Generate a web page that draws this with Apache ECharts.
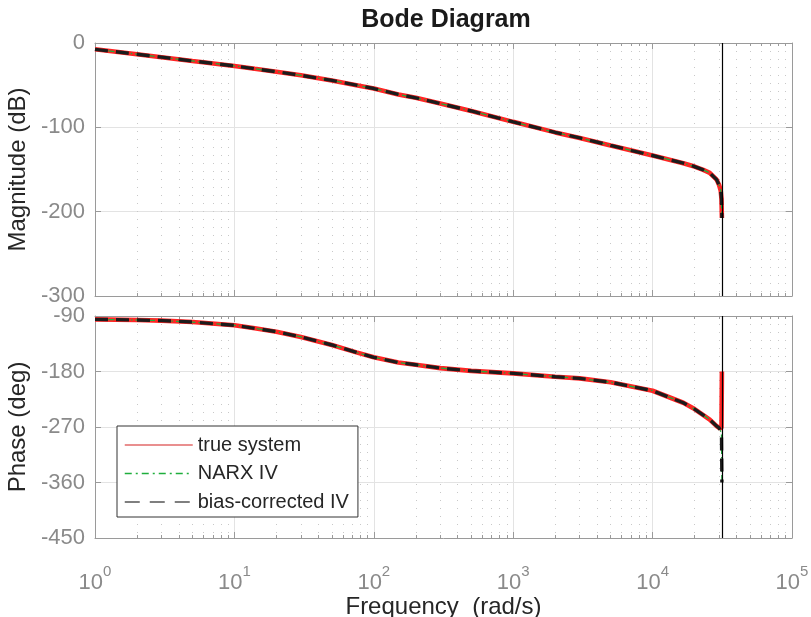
<!DOCTYPE html>
<html><head><meta charset="utf-8">
<script src="https://cdn.jsdelivr.net/npm/echarts@6/dist/echarts.min.js"></script>
<style>html,body{margin:0;padding:0;background:#fff}#c{width:811px;height:617px}</style>
</head><body><div id="c"></div>
<script>
// ---- data ----
const freq = [1, 2, 3, 5, 10, 14, 20, 30, 50, 75, 100, 150, 200, 300, 500, 1000, 2000, 3000, 5000, 10000, 16600, 20000, 23100, 25700, 28800, 30000, 30800, 31200, 31416];
const trueMag = [-7.5, -13.3, -16.8, -21.3, -27.2, -30.6, -34.0, -38.3, -44.4, -50.0, -54.0, -61.0, -65.0, -71.8, -80.6, -93.5, -106.0, -112.6, -121.5, -133.4, -142.5, -146.5, -150.5, -154.0, -162.0, -168.5, -175.0, -185.0, -207.5];
const narxMag = [-7.5, -13.3, -16.8, -21.3, -27.2, -30.6, -34.0, -38.3, -44.4, -50.0, -54.0, -61.0, -65.0, -71.8, -80.6, -93.5, -106.0, -112.6, -121.5, -133.4, -142.5, -146.5, -150.5, -154.0, -162.0, -168.5, -175.0, -185.0, -207.5];
const bcMag = [-7.5, -13.3, -16.8, -21.3, -27.2, -30.6, -34.0, -38.3, -44.4, -50.0, -54.0, -61.0, -65.0, -71.8, -80.6, -93.5, -106.0, -112.6, -121.5, -133.4, -142.5, -146.5, -150.5, -154.0, -162.0, -168.5, -175.0, -185.0, -207.5];
const truePhase = [-95.4, -96.5, -97.5, -99.8, -105.0, -110.0, -115.4, -124.0, -137.0, -149.0, -157.0, -165.5, -169.0, -174.5, -179.0, -183.0, -188.5, -191.2, -197.5, -211.2, -230.7, -241.0, -250.7, -258.0, -268.6, -271.5, -273.0, -272.0, -180.0];
const narxPhase = [-95.4, -96.5, -97.5, -99.8, -105.0, -110.0, -115.4, -124.0, -137.0, -149.0, -157.0, -165.5, -169.0, -174.5, -179.0, -183.0, -188.5, -191.2, -197.5, -211.2, -230.7, -241.0, -250.7, -258.0, -268.6, -271.5, -274.0, -280.0, -360.0];
const bcPhase = [-95.4, -96.5, -97.5, -99.8, -105.0, -110.0, -115.4, -124.0, -137.0, -149.0, -157.0, -165.5, -169.0, -174.5, -179.0, -183.0, -188.5, -191.2, -197.5, -211.2, -230.7, -241.0, -250.7, -258.0, -268.6, -271.5, -274.0, -280.0, -360.0];
const nyquist = [31416];
const xMajorTicks = [1, 10, 100, 1000, 10000, 100000];
const xMinorTicks = [2,3,4,5,6,7,8,9,20,30,40,50,60,70,80,90,200,300,400,500,600,700,800,900,2000,3000,4000,5000,6000,7000,8000,9000,20000,30000,40000,50000,60000,70000,80000,90000];
const magRange = [-300, 0];
const phaseRange = [-450, -90];
const seriesNames = ['true system', 'NARX IV', 'bias-corrected IV'];

// ---- styling ----
const FONT = '"Liberation Sans", Arial, Helvetica, sans-serif';
const AX = '#9a9a9a';
const LBL = '#8a8a8a';
const DARK = '#262626';
const RED = '#ff2424', GREEN = '#1fae3c', BLACK = '#1c1c1c';

function xAxisDef(grid, pos, kind, labels) {
  const o = {
    type: 'log', logBase: 10, gridIndex: grid, position: pos, min: 1, max: 100000,
    axisLine: { show: true, onZero: false, lineStyle: { color: AX, width: 1 } },
    axisTick: { show: true, inside: true, length: kind === 'major' ? 6 : 3, lineStyle: { color: AX } },
    axisLabel: { show: false },
    splitLine: { show: false }
  };
  if (kind === 'minor') {
    o.axisTick.customValues = xMinorTicks;
    o.axisLine.show = false;
    if (pos === 'bottom') o.splitLine = { show: true, lineStyle: { color: '#c8c8c8', type: [1, 7], width: 1 } };
  } else {
    o.axisTick.customValues = xMajorTicks;
    if (pos === 'bottom') o.splitLine = { show: true, lineStyle: { color: '#e3e3e3', width: 1 } };
  }
  if (labels) {
    o.axisLabel = {
      show: true, margin: 26, customValues: xMajorTicks,
      formatter: v => '{b|10}{s|' + Math.round(Math.log10(v)) + '}',
      rich: {
        b: { fontFamily: FONT, fontSize: 22, color: LBL, lineHeight: 30, verticalAlign: 'bottom' },
        s: { fontFamily: FONT, fontSize: 15, color: LBL, lineHeight: 15, verticalAlign: 'top' }
      }
    };
    o.name = 'Frequency  (rad/s)';
    o.nameLocation = 'middle';
    o.nameGap = 50;
    o.nameTextStyle = { fontFamily: FONT, fontSize: 24, color: DARK };
  }
  return o;
}
function yAxisDef(grid, pos, range, step, name) {
  const o = {
    type: 'value', gridIndex: grid, position: pos, min: range[0], max: range[1], interval: step,
    axisLine: { show: true, onZero: false, lineStyle: { color: AX, width: 1 } },
    axisTick: { show: true, inside: true, length: 6, lineStyle: { color: AX } },
    axisLabel: { show: false },
    splitLine: { show: pos === 'left', lineStyle: { color: '#e3e3e3', width: 1 } }
  };
  if (name) {
    o.axisLabel = { show: true, margin: 10, fontFamily: FONT, fontSize: 22, color: LBL };
    o.name = name; o.nameLocation = 'middle'; o.nameGap = 62;
    o.nameTextStyle = { fontFamily: FONT, fontSize: 24, color: DARK };
  }
  return o;
}
function pairs(vals) { return freq.map((f, i) => [f, vals[i]]); }
function line(name, xi, yi, vals, style) {
  return { name, type: 'line', xAxisIndex: xi, yAxisIndex: yi, data: pairs(vals), showSymbol: false, symbol: 'none',
    smooth: false, lineStyle: style, itemStyle: { color: style.color }, animation: false, silent: true };
}
function nyq(xi, yi) {
  return { name: 'nyq', type: 'line', xAxisIndex: xi, yAxisIndex: yi, data: [], animation: false, silent: true,
    markLine: { silent: true, symbol: ['none', 'none'], label: { show: false },
      lineStyle: { color: '#000', width: 1.2, type: 'solid' }, data: [{ xAxis: nyquist[0] }], animation: false } };
}
const redS = { color: RED, width: 4.6 };
const greenS = { color: GREEN, width: 1.3, type: [6, 3, 1.5, 3] };
const blackS = { color: BLACK, width: 3.4, type: [13, 8] };

const option = {
  backgroundColor: '#fff',
  animation: false,
  title: { text: 'Bode Diagram', left: 441, top: 3, textAlign: 'center',
    textStyle: { fontFamily: FONT, fontSize: 25, fontWeight: 'bold', color: '#1a1a1a' } },
  grid: [
    { left: 95, right: 19, top: 43, height: 253, containLabel: false, outerBoundsMode: 'none' },
    { left: 95, right: 19, top: 316, height: 222, containLabel: false, outerBoundsMode: 'none' }
  ],
  xAxis: [
    xAxisDef(0, 'bottom', 'major', false), xAxisDef(0, 'top', 'major', false),
    xAxisDef(0, 'bottom', 'minor', false), xAxisDef(0, 'top', 'minor', false),
    xAxisDef(1, 'bottom', 'major', true), xAxisDef(1, 'top', 'major', false),
    xAxisDef(1, 'bottom', 'minor', false), xAxisDef(1, 'top', 'minor', false)
  ],
  yAxis: [
    yAxisDef(0, 'left', magRange, 100, 'Magnitude (dB)'), yAxisDef(0, 'right', magRange, 100, null),
    yAxisDef(1, 'left', phaseRange, 90, 'Phase (deg)'), yAxisDef(1, 'right', phaseRange, 90, null)
  ],
  legend: {
    orient: 'vertical', left: 117, top: 426, padding: [8, 9, 4, 7], itemGap: 6.5,
    itemWidth: 68, itemHeight: 14,
    backgroundColor: '#fff', borderColor: '#333', borderWidth: 1, borderRadius: 0,
    textStyle: { fontFamily: FONT, fontSize: 20, color: DARK, lineHeight: 22 },
    itemStyle: { opacity: 0 },
    data: [
      { name: seriesNames[0], itemStyle: { opacity: 0 }, lineStyle: { width: 1.2, color: '#d42020', type: 'solid' } },
      { name: seriesNames[1], itemStyle: { opacity: 0 }, lineStyle: { width: 1.5, color: GREEN, type: [7, 4, 2, 4] } },
      { name: seriesNames[2], itemStyle: { opacity: 0 }, lineStyle: { width: 1.5, color: '#555', type: [15, 10] } }
    ],
    selectedMode: false
  },
  series: [
    line(seriesNames[0], 0, 0, trueMag, redS),
    line(seriesNames[1], 0, 0, narxMag, greenS),
    line(seriesNames[2], 0, 0, bcMag, blackS),
    nyq(0, 0),
    line(seriesNames[0], 4, 2, truePhase, redS),
    line(seriesNames[1], 4, 2, narxPhase, greenS),
    line(seriesNames[2], 4, 2, bcPhase, blackS),
    nyq(4, 2)
  ]
};
const chart = echarts.init(document.getElementById('c'), null, { renderer: 'canvas' });
chart.setOption(option);
</script></body></html>
